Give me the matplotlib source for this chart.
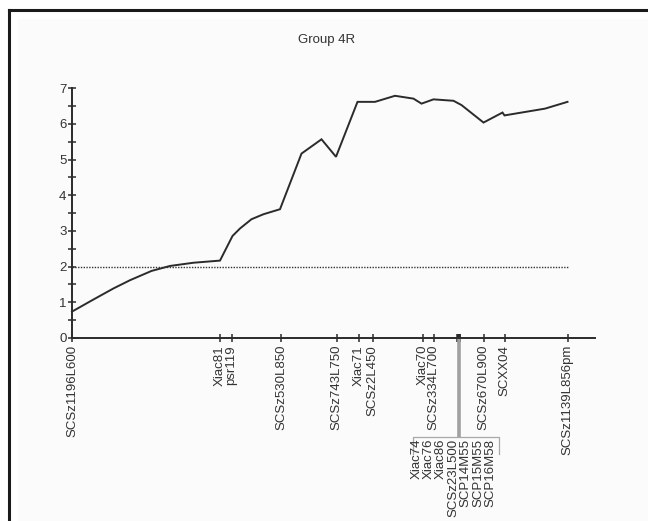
import matplotlib
matplotlib.use("Agg")
import matplotlib.pyplot as plt
import matplotlib.transforms as mtransforms
from matplotlib.lines import Line2D
from matplotlib.patches import Rectangle

plt.rcParams['font.family'] = ['Liberation Sans', 'DejaVu Sans']

# LOD profile (position in cM, LOD)
pos = [0, 4.3, 8.3, 11.6, 15.9, 19.6, 24.3, 29.6, 32.1, 33.6, 35.9, 38.3, 41.6,
       45.9, 49.9, 52.8, 57.1, 60.6, 64.6, 68.3, 69.9, 72.3, 76.3, 77.9, 82.3,
       86.1, 86.5, 94.6, 99.1]
lod = [0.74, 1.08, 1.39, 1.62, 1.88, 2.02, 2.11, 2.17, 2.86, 3.07, 3.33, 3.47, 3.61,
       5.17, 5.57, 5.08, 6.62, 6.62, 6.79, 6.71, 6.57, 6.69, 6.65, 6.53, 6.04,
       6.32, 6.24, 6.43, 6.62]

threshold = 2.0
map_end = 104.6

marker_names = ['SCSz1196L600', 'Xiac81', 'psr119', 'SCSz530L850', 'SCSz743L750',
                'Xiac71', 'SCSz2L450', 'Xiac70', 'SCSz334L700', 'SCSz670L900',
                'SCXX04', 'SCSz1139L856pm']
marker_pos = [0, 29.5, 31.9, 41.8, 52.9, 57.4, 60.1, 70.1, 72.3, 82.3, 86.5, 99.1]

cluster_names = ['Xiac74', 'Xiac76', 'Xiac86', 'SCSz23L500', 'SCP14M55', 'SCP15M55', 'SCP16M58']
cluster_pos = [77.0, 77.1, 77.2, 77.3, 77.4, 77.5, 77.6]

title = 'Group 4R'

fig = plt.figure(figsize=(6.48, 5.21), dpi=100)
fig.patch.set_facecolor('white')

# outer frame
fig.add_artist(Rectangle((18 / 648, 0), 1, 1 - 19 / 521, transform=fig.transFigure,
                         facecolor='#fbfbfb', edgecolor='none', zorder=-10))
fig.add_artist(Line2D([9 / 648, 9 / 648], [0, 1 - 10 / 521], transform=fig.transFigure,
                      color='#1a1a1a', lw=2.2))
fig.add_artist(Line2D([9 / 648, 1], [1 - 10 / 521, 1 - 10 / 521], transform=fig.transFigure,
                      color='#1a1a1a', lw=2.2))

ax = fig.add_axes([72 / 648, 183 / 521, (595 - 72) / 648, (338 - 88.3) / 521])
ax.set_facecolor('none')
ax.set_xlim(0, map_end)
ax.set_ylim(0, 7)

ax.plot(pos, lod, color='#2b2b2b', lw=1.4, solid_joinstyle='miter', clip_on=False)
ax.plot([0, marker_pos[-1]], [threshold, threshold], color='#333333', lw=1.0,
        linestyle=(0, (1, 1)))

for s in ['top', 'right']:
    ax.spines[s].set_visible(False)
for s in ['left', 'bottom']:
    ax.spines[s].set_color('#2b2b2b')
    ax.spines[s].set_linewidth(1.4)

ax.set_yticks(range(0, 8))
ax.set_yticks([i + 0.5 for i in range(7)], minor=True)
ax.tick_params(axis='y', which='both', direction='inout', length=6, width=1.1,
               colors='#2b2b2b', labelsize=9.5, pad=1)
ax.tick_params(axis='y', which='major', labelcolor='#333333')

ax.set_xticks(marker_pos)
ax.set_xticklabels(marker_names, rotation=90, va='top', ha='center')
ax.set_xticks(cluster_pos, minor=True)
ax.tick_params(axis='x', which='both', direction='inout', length=6, width=1.1,
               colors='#2b2b2b', labelsize=9.5, pad=2)
ax.tick_params(axis='x', which='major', labelcolor='#333333')

# cluster of co-located markers
trans = mtransforms.blended_transform_factory(ax.transData, ax.transAxes)
cx = sum(cluster_pos) / len(cluster_pos)
box_top = -0.395
ax.plot([cx, cx], [0, box_top], transform=trans, color='#a0a0a0', lw=2.6,
        clip_on=False, solid_capstyle='butt')
bx0, bx1, bbot = 68.1, 85.4, -0.465
ax.plot([bx0, bx0, bx1, bx1], [bbot, box_top, box_top, bbot], transform=trans,
        color='#a8a8a8', lw=0.9, clip_on=False)
lab_start, lab_step = 68.9, 2.47
for i, name in enumerate(cluster_names):
    ax.text(lab_start + i * lab_step, -0.404, name, transform=trans, rotation=90,
            ha='center', va='top', fontsize=9.5, color='#333333', clip_on=False)

fig.text(327 / 648, 1 - 40 / 521, title, ha='center', va='center', fontsize=9.5,
         color='#333333')

fig.savefig('out.png', dpi=100)
